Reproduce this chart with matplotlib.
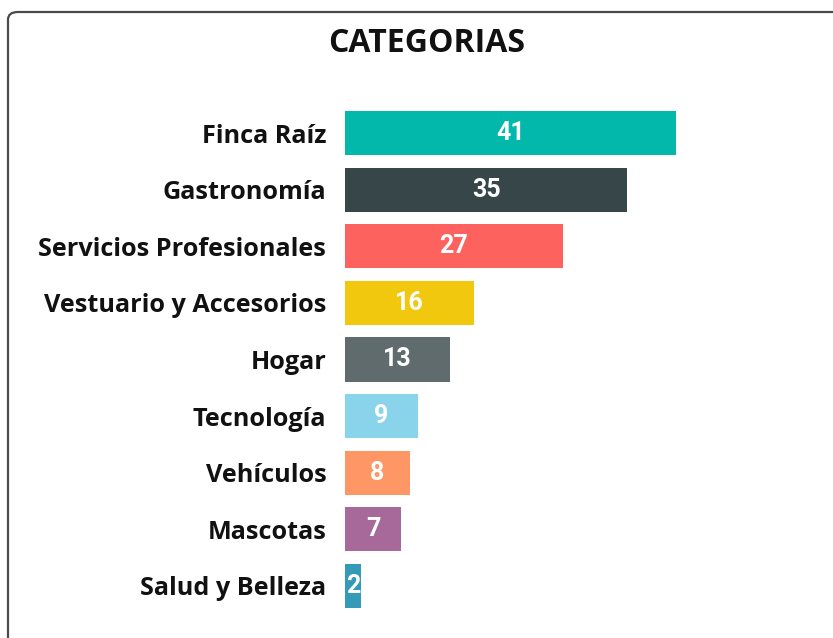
import matplotlib
matplotlib.use("Agg")
import matplotlib.pyplot as plt
from matplotlib.patches import FancyBboxPatch

categories = ["Finca Raíz", "Gastronomía", "Servicios Profesionales", "Vestuario y Accesorios",
              "Hogar", "Tecnología", "Vehículos", "Mascotas", "Salud y Belleza"]
values = [41, 35, 27, 16, 13, 9, 8, 7, 2]
colors = ["#01B8AA", "#374649", "#FD625E", "#F2C80F", "#5F6B6D",
          "#8AD4EB", "#FE9666", "#A66999", "#3599B8"]
title = "CATEGORIAS"

W, H = 833, 638
fig = plt.figure(figsize=(W / 100, H / 100), dpi=100)
fig.patch.set_facecolor("white")

# panel border (rounded, extends past right/bottom edge)
border = FancyBboxPatch((8 / W, -0.1), 1.2, (H - 12) / H + 0.1,
                        boxstyle="round,pad=0,rounding_size=0.012",
                        transform=fig.transFigure, fill=False,
                        edgecolor="#4a4a4a", linewidth=1.6, zorder=0)
fig.patches.append(border)

left, right = 345 / W, 829 / W
top, bottom = 1 - 104.7 / H, 1 - 614.3 / H
ax = fig.add_axes([left, bottom, right - left, top - bottom])
ax.set_facecolor("none")
ypos = list(range(len(categories)))
ax.barh(ypos, values, height=0.78, color=colors, zorder=2)
ax.set_xlim(0, 60)
ax.set_ylim(len(categories) - 0.5, -0.5)
for s in ax.spines.values():
    s.set_visible(False)
ax.set_xticks([])
ax.set_yticks(ypos)
ax.set_yticklabels(categories, fontsize=18.2, fontweight="bold", family="Open Sans", color="#111111")
ax.tick_params(axis="y", length=0, pad=13.5)

for y, v in zip(ypos, values):
    ax.text(v / 2, y, str(v), ha="center", va="center", color="white",
            fontsize=18, fontweight="semibold", family="Roboto", zorder=3)

fig.text(427 / W, 1 - 44 / H, title, ha="center", va="center", fontsize=23,
         fontweight="bold", family="Open Sans", color="#111111")

fig.savefig("out.png", dpi=100)
